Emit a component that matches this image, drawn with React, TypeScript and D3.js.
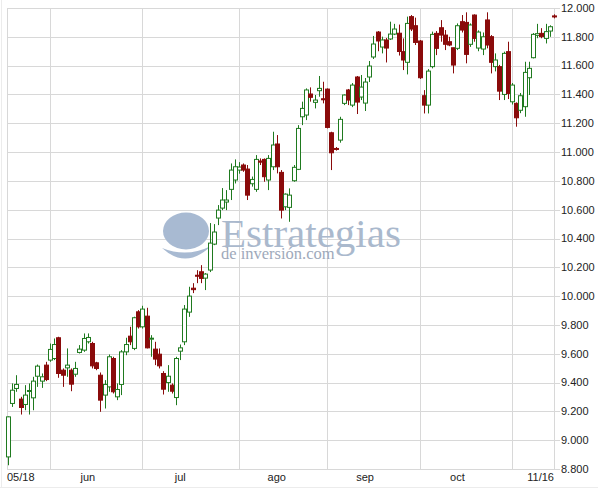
import React from "react";
import * as d3 from "d3";

// ---- data (IBEX-like daily OHLC, 18 May – 16 Nov) ----
const opens = [8884,9255,9359,9285,9248,9340,9294,9444,9410,9521,9556,9567,9711,9486,9502,9486,9458,9609,9625,9683,9671,9537,9451,9313,9370,9567,9301,9387,9613,9722,9637,9891,9787,9861,9703,9632,9597,9463,9400,9382,9296,9618,9683,9889,10055,10145,10169,10125,10181,10361,10542,10611,10653,10741,10806,10875,10910,10882,10780,10741,10938,10949,10806,10898,11056,10859,10620,10616,10801,10880,11245,11257,11403,11345,11426,11370,11437,11134,11025,11083,11338,11431,11326,11521,11382,11340,11521,11660,11833,11729,11778,11785,11819,11825,11697,11623,11940,11877,11771,11391,11326,11593,11824,11863,11812,11766,11724,11720,11905,11900,11748,11951,11722,11715,11917,11801,11593,11593,11400,11697,11349,11338,11290,11315,11516,11655,11810,11824,11789,11840,11945];
const highs = [9165,9394,9451,9301,9382,9394,9440,9525,9463,9544,9671,9706,9718,9498,9637,9498,9544,9660,9741,9741,9683,9544,9470,9417,9595,9579,9394,9625,9711,9787,9857,9903,9933,9919,9729,9683,9637,9479,9521,9394,9579,9664,9938,10065,10090,10180,10215,10160,10507,10500,10632,10750,10736,10921,10949,10930,10921,10910,10830,10979,10956,10956,10979,11141,11118,10875,10713,10748,10910,11187,11350,11442,11449,11396,11528,11488,11442,11141,11035,11245,11400,11438,11479,11528,11535,11514,11632,11806,11840,11801,11792,11905,11890,11885,11789,11940,11951,11933,11778,11430,11576,11836,11840,11916,11847,11800,11724,11893,11951,11970,11893,11956,11845,11830,11970,11812,11685,11605,11697,11766,11479,11345,11410,11627,11627,11826,11890,11860,11890,11880,11956];
const lows = [8826,9231,9336,9178,9208,9178,9208,9370,9363,9410,9544,9556,9433,9370,9440,9340,9440,9602,9613,9671,9498,9486,9197,9220,9336,9324,9278,9313,9590,9660,9625,9775,9775,9637,9579,9521,9498,9317,9336,9324,9243,9556,9660,9856,10021,10090,10090,10042,10167,10354,10493,10597,10597,10667,10782,10850,10863,10667,10760,10724,10910,10794,10736,10875,10852,10539,10597,10516,10794,10875,11187,11222,11350,11303,11384,11338,11164,10875,11010,11065,11326,11326,11312,11264,11361,11285,11486,11646,11700,11685,11622,11778,11812,11670,11569,11539,11840,11743,11507,11268,11268,11581,11673,11766,11708,11735,11546,11708,11830,11616,11730,11766,11700,11673,11720,11546,11560,11361,11361,11368,11330,11176,11270,11245,11396,11650,11790,11790,11754,11800,11928];
const closes = [9162,9347,9387,9227,9313,9345,9410,9514,9440,9421,9630,9664,9463,9451,9521,9389,9498,9632,9706,9713,9516,9498,9278,9387,9579,9336,9352,9613,9664,9683,9850,9787,9910,9641,9708,9563,9516,9354,9444,9340,9567,9641,9910,10000,10045,10138,10123,10153,10368,10445,10597,10667,10667,10875,10898,10896,10875,10701,10810,10949,10930,10829,10956,11049,10898,10597,10708,10701,10894,11164,11303,11431,11380,11361,11442,11363,11171,10995,11018,11227,11396,11361,11465,11347,11451,11486,11597,11750,11771,11778,11722,11819,11854,11698,11639,11893,11854,11761,11516,11326,11562,11817,11720,11812,11748,11743,11604,11877,11847,11678,11882,11789,11833,11800,11743,11623,11639,11423,11685,11407,11465,11238,11391,11553,11581,11817,11822,11801,11836,11870,11938];

const yTicks = [8800,9000,9200,9400,9600,9800,10000,10200,10400,10600,10800,11000,11200,11400,11600,11800,12000];
const xTickLabels = ["05/18","jun","jul","ago","sep","oct","11/16"];

const W = 598, H = 489;
const left = 7, right = 554, top = 8, bottom = 469;

const tradingDays = d3.timeDay
  .range(new Date(2009, 4, 18), new Date(2009, 10, 17))
  .filter((d) => d.getDay() !== 0 && d.getDay() !== 6);
const fmtKey = d3.timeFormat("%Y-%m-%d");
const keys = tradingDays.map(fmtKey);

const locale = d3.formatLocale({ decimal: ",", thousands: ".", grouping: [3], currency: ["", "€"] });
const fmtY = locale.format(",.0f");

const GREEN = "#1f7a1f";
const RED = "#8a0b0b";
const GRID = "#d8d8d8";

export default function App() {
  const x = d3.scalePoint<string>().domain(keys).range([8, 554]);
  const y = d3.scaleLinear().domain([8800, 12000]).range([bottom, top]);

  // month starts
  const monthStarts: number[] = [];
  tradingDays.forEach((d, i) => {
    if (i > 0 && d.getMonth() !== tradingDays[i - 1].getMonth()) monthStarts.push(i);
  });
  const labelPos: { x: number; anchor: string }[] = [
    { x: left, anchor: "start" },
    ...monthStarts.slice(0, 5).map((i) => ({ x: x(keys[i + 9])!, anchor: "middle" })),
    { x: right, anchor: "end" },
  ];

  const n = closes.length;
  const bw = 3;

  return (
    <svg width={W} height={H} style={{ position: "absolute", left: 0, top: 0, background: "#fff" }}>
      <rect x={0} y={0} width={W} height={H} fill="#fff" />
      <line x1={1.5} x2={1.5} y1={0} y2={488} stroke="#ececec" />
      <line x1={0} x2={W} y1={487.5} y2={487.5} stroke="#ececec" />
      {/* horizontal grid */}
      {yTicks.map((t) => (
        <line key={"h" + t} x1={left} x2={560} y1={Math.round(y(t)) + 0.5} y2={Math.round(y(t)) + 0.5} stroke={GRID} />
      ))}
      {/* vertical grid */}
      <line x1={left + 0.5} x2={left + 0.5} y1={top} y2={bottom} stroke={GRID} />
      <line x1={right + 0.5} x2={right + 0.5} y1={top} y2={bottom} stroke={GRID} />
      {monthStarts.map((i) => (
        <line key={"v" + i} x1={Math.round(x(keys[i])!) + 0.5} x2={Math.round(x(keys[i])!) + 0.5} y1={top} y2={bottom} stroke={GRID} />
      ))}
      {/* watermark */}
      <g>
        <ellipse cx={186} cy={231} rx={23} ry={18.5} fill="#a8bad2" />
        <path d="M162,248 Q186,270 211,246 Q187,258 162,248 Z" fill="#a8bad2" />
        <text x={221} y={247} fontFamily="'Liberation Serif', serif" fontSize={41} fill="#aab9cd">Estrategias</text>
        <text x={221} y={259} fontFamily="'Liberation Serif', serif" fontSize={16.5} fill="#9ea9ba">de inversión.com</text>
      </g>
      {/* candles */}
      {d3.range(n).map((i) => {
        const cx = Math.round(x(keys[i])!);
        const up = closes[i] >= opens[i];
        const col = up ? GREEN : RED;
        const yo = y(opens[i]);
        const yc = y(closes[i]);
        const yt = Math.min(yo, yc);
        const h = Math.max(1, Math.abs(yo - yc));
        return (
          <g key={"c" + i}>
            <line x1={cx + 0.5} x2={cx + 0.5} y1={y(highs[i])} y2={y(lows[i])} stroke={col} strokeWidth={1} />
            <rect x={cx - 1.5} y={yt} width={bw + 1} height={h} fill={up ? "#fff" : RED} stroke={col} strokeWidth={1} />
          </g>
        );
      })}
      {/* y labels */}
      {yTicks.map((t) => (
        <text key={"yl" + t} x={561} y={y(t)} dy="0.35em" fontFamily="'Liberation Sans', Arial, sans-serif" fontSize={11} fill="#222">
          {fmtY(t)}
        </text>
      ))}
      {/* x labels */}
      {xTickLabels.map((l, k) => (
        <text key={"xl" + k} x={labelPos[k].x} y={481} textAnchor={labelPos[k].anchor as any} fontFamily="'Liberation Sans', Arial, sans-serif" fontSize={11} fill="#222">
          {l}
        </text>
      ))}
    </svg>
  );
}
